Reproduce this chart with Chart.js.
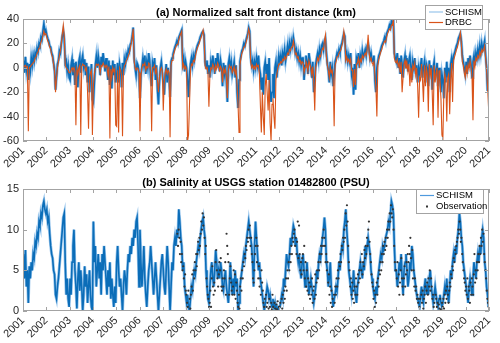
<!DOCTYPE html>
<html>
<head>
<meta charset="utf-8">
<script src="https://cdn.jsdelivr.net/npm/chart.js@4.4.0/dist/chart.umd.min.js"></script>
<style>
  html, body { margin: 0; padding: 0; background: #fff; }
  #wrap { position: relative; width: 500px; height: 343px; }
  canvas { position: absolute; left: 0; }
  #top { top: 0; }
  #bot { top: 170px; }
</style>
</head>
<body>
<div id="wrap">
  <canvas id="top" width="500" height="170"></canvas>
  <canvas id="bot" width="500" height="173"></canvas>
</div>
<script>
// x axis years
const yearTicks = [2001, 2021];
const perYear = 24; // half-month samples

// (a) normalized salt front distance, km — one row per year 2001..2020
const schismKm = [
  [6,-4,9,-2,4,-10,3,-3,8,2,10,5,12,9,16,13,20,18,25,23,30,36,29,31],
  [27,24,22,18,17,12,10,4,-2,-18,-8,3,6,14,12,20,26,30,24,4,6,-3,2,-8],
  [-10,2,7,-6,4,-14,5,-2,-16,5,9,-4,6,10,1,7,-6,4,-12,1,-20,-8,3,-26],
  [-28,-12,2,9,0,10,4,-6,9,2,12,5,-3,8,0,-10,6,-14,2,-17,6,-6,3,-12],
  [-6,4,-12,3,-2,-16,4,-6,7,3,11,9,15,13,19,21,26,33,8,0,-6,4,2,-4],
  [-25,-6,1,8,2,10,-5,5,0,12,6,-8,-15,4,0,8,-10,2,-18,-30,-12,0,5,-4],
  [-12,-22,-6,3,-12,0,-8,-24,5,8,11,14,17,19,22,20,25,27,29,31,4,8,-3,5],
  [0,-10,-24,-6,3,8,2,10,6,12,15,18,20,22,25,27,29,30,27,5,0,6,-5,2],
  [-8,5,0,10,3,-5,8,0,12,5,-3,6,0,-15,4,-5,2,-10,-28,3,8,0,5,-5],
  [0,5,-8,2,-20,-33,-10,5,10,14,16,20,18,22,25,28,33,30,8,2,6,-2,5,0],
  [8,2,10,0,-5,-18,-8,-22,0,5,-5,3,-10,8,-18,-28,-20,-5,-25,0,5,-8,2,10],
  [5,10,2,12,8,15,6,12,18,10,20,15,22,18,25,20,12,15,8,12,5,10,2,8],
  [8,-10,2,10,5,-5,12,6,0,-8,5,-20,-10,3,8,12,6,15,10,18,20,15,22,24],
  [12,3,-2,-12,5,-5,0,-15,-5,5,8,12,10,15,12,18,20,24,28,26,8,12,5,10],
  [5,12,-5,0,-22,3,-18,8,5,12,0,10,6,14,8,12,15,10,18,20,15,8,12,6],
  [5,10,-10,-20,0,5,10,12,15,18,20,22,25,22,28,30,32,35,33,38,36,39,12,8],
  [5,12,0,8,-5,10,3,-8,5,10,0,8,-3,6,10,2,-10,5,0,8,-5,2,-12,0],
  [-5,2,8,-8,0,5,-12,3,0,-15,6,-5,2,-18,0,5,-10,-3,4,-15,0,-8,-20,-5],
  [-10,-25,0,-12,5,-8,0,-20,3,8,2,10,12,15,18,20,24,26,28,22,10,5,0,-5],
  [5,-5,8,0,10,3,-8,5,10,2,12,8,15,10,18,12,20,15,18,22,10,0,-19,-12]
];

const drbcKm = [
  [2,1,2,0,1,-52,0,1,2,3,4,5,8,9,12,13,16,18,21,23,26,30,27,28],
  [25,22,20,17,15,11,8,3,-3,-20,-8,0,5,10,14,20,28,35,26,2,0,-1,-2,-4],
  [-4,-2,0,-2,0,-3,-47,-1,-5,0,2,-55,1,3,2,2,-2,0,-20,-50,-8,-4,-2,-55],
  [-15,-5,0,3,2,3,2,-4,2,1,4,2,0,2,0,-6,1,-58,-1,-8,0,-3,-1,-47],
  [-48,-2,-53,0,-2,-6,-56,-3,2,3,6,7,10,12,16,20,25,32,5,0,-2,0,-1,-4],
  [-52,-6,0,3,2,4,-2,1,0,4,3,-5,-52,0,0,2,-4,-1,-10,-20,-8,-2,0,-3],
  [-35,-12,-4,-1,-5,-2,-4,-57,2,6,9,12,15,17,19,19,23,26,28,30,0,3,-1,1],
  [-2,-60,-55,-30,-2,3,2,6,5,9,13,16,18,20,23,25,28,31,25,2,-1,1,-4,-32],
  [-6,0,-1,3,1,-3,2,-1,4,2,-2,1,-1,-12,-1,-4,-1,-8,-25,-2,2,0,1,-4],
  [-2,1,-5,-1,-14,-30,-53,2,8,12,14,17,17,20,23,27,32,28,5,0,2,-1,1,-1],
  [3,1,2,-5,-30,-53,-20,-40,-55,-15,-5,-20,-35,-10,-45,-60,-30,-25,-40,-50,-10,-5,0,3],
  [3,5,4,7,6,9,7,9,12,11,15,14,17,17,22,17,11,12,8,9,5,6,3,5],
  [4,-4,0,5,3,-3,6,3,0,-6,1,-12,-35,0,4,8,6,10,9,13,16,15,22,27],
  [9,2,-2,-8,1,-4,-2,-10,-48,2,5,9,9,12,12,15,18,22,30,24,6,9,5,7],
  [4,7,-2,-2,-16,-1,-14,3,4,8,2,7,5,10,8,10,12,10,15,27,12,6,8,4],
  [3,5,-6,-16,-40,2,7,10,13,15,18,20,22,21,25,28,30,32,31,35,35,40,8,5],
  [4,7,1,4,-4,5,-20,-8,3,6,-1,4,-3,3,-15,0,-12,2,-1,4,-6,0,-15,-41],
  [-8,-10,3,-10,-28,2,-15,0,-5,-36,3,-6,0,-20,-47,2,-12,-5,0,-41,-2,-10,-25,-55],
  [-58,-20,-5,-10,-44,-8,-5,-38,-10,4,-28,6,9,12,15,17,21,24,29,20,5,2,-4,-8],
  [2,-5,3,-1,6,1,-8,-43,6,1,8,6,10,8,13,10,15,13,15,18,8,-2,-15,-32]
];

// (b) salinity at USGS 01482800, PSU
const schismPsu = [
  [7,4,7.5,3,5,1,5.5,4,6,5,7,6.5,8.5,8,9.5,9,11,10.5,12,11.5,13,13.5,12.5,12],
  [12.5,11,11.5,9.5,8,7,6.5,5,4.5,2,1.5,3,4,5.5,7,8.5,10,11.5,12,6,2,4,1.5,0.5],
  [4,2,6,8,10,5,3,0.3,4,6,2.5,5,3,0,2,5.5,3,4.5,1,3,5,2,0.5,0],
  [11,6,8,3,5,7,4,6,2,7,5,8,6,4,2,5,3,6,1.5,4,2,0.5,3,1],
  [6,8,5,3,4,2,0,3,5,4,2,5,7,6,8,7,9,8,10,9,11,11.5,8,3],
  [10,6,3,5,8,4,2,0.5,3,5,6,8,6,4,2,4,6,4,2,0,2,4,6,7],
  [5,3,2,5,8,6,3,0,3,6,5,8,9,8,10,9,12.5,11,9,8,5,6,3,2],
  [1,2,0.5,0,1.5,3,2.5,4,5,4.5,6,7,8,7.5,9,10,11,11.5,10,9,5,3,1.5,1],
  [3,5,6,4,3,5,7.5,6,4,5,4,6,5,3,2.5,4,5,3,2,1,3,6,4,2],
  [4,2,5,3,4,0,1,3,4,5,6,7,6.5,8,9,10,11,10,9,8,6,3,8,11],
  [9,7,5,6,4,3,2,1,0,1,2,3,2.5,1.5,2,1,0.5,1.5,0.5,1,0,0.5,0,0.5],
  [0.5,1,2,1.5,4,3,5,7,6,5.5,7,9,8,9.5,10.5,10,8,9,7,6,7,5,4,6],
  [7,5,3,4,6,4,2,3,4,3,2,1,2,3,5,4,6,7,6.5,8,9,10,11.5,10],
  [6,5,3,4,6,3,2,0.5,1.5,2,3,2.5,4,6,5,7,8,7.5,10,11,12.5,10,8,5],
  [4,3,2,3,5,3,2,1,3,4,5,6,5,4,6,5,8,7,8,9,8,7,5,4],
  [3,2,1.5,3,2,4,5,6,7,6.5,8,7.5,8,9,9.5,10,11,10.5,12,13.5,13,12,8,5],
  [5,3,4,6,5,7,4,2,5,6,7,5,3,4,6,5,8,7,5,4,3,2,1.5,1],
  [0.5,2,3,1.5,1,3,4,2,3,2,4,5,3,2,1,2,3,2,1,0.5,1.5,2,1,0.5],
  [1,2,3,2,4,2,1,3,5,4,6,7,6,8,7,9,10,12,11,9,8,6,5,4],
  [3,2,1,3,4,3,2,4,6,5,4,6,7,6,8,7,9,10,9,6,5,3,2,0.5]
];

// observations, 36 per year, starting late 2007
const obsStart = 2007 + 22 / 36;
const obsPerYear = 36;
const obsPsu = [
  [9.5,8,10,9,7,8.5,6,7,5,5.5,4,3,4.5,2.5],
  [2,1,0.5,2.5,0,1.5,0.3,2,3,4.5,2.5,5,4,6,5,7,5.5,7,8.5,7.5,9,8,9.5,11,10,12,10.5,11.5,9,7,8,4,3,2,1.5,0.5],
  [1,2.5,0.5,4,5.5,3,2,3.5,2.5,6,7.5,5,4,3,4.5,6,5,6.5,3,2.5,4,3,5,4,6,2,9.5,8,7,6,2,4,5.5,3.5,2.5,2],
  [3,5,2,4.5,1.5,3.5,2.5,1,0.5,2,0.3,3,4,2.5,5,4,6,5.5,7,6.5,8,7.5,9,8.5,10,9,10.5,8,9,7,6,4,3.5,5,7,8],
  [9,6,8,4,5.5,3,4,2,5,3.5,2.5,1,0.5,1.5,0,2,0.5,1,0,0.3,1.5,0.5,0,1,0.2,2,0.5,0,1,0.3,0,0.8,0.2,1.2,0,0.5],
  [0.5,1,0,1.5,0.3,2,1,2.5,1.5,3,4,2.5,5,4,6,5,7,6,8,7,9,8.5,9.5,10,8,9,7,8.5,11,6.5,10.5,7,5,6,4.5,6.5],
  [7,5,8,4,6,3,5,2.5,4,2,3.5,1.5,3,2,4,1,2.5,3,1.5,4.5,2,3.5,5,4,6,5,7,6,8,7,9,8,10,9,8,6],
  [7,5,6,3.5,4.5,2,3,1,2.5,0.5,1.5,0,2,1,3,2,4,3,5,4,6,5.5,7,6,8,7.5,9,8.5,10,9,12,10.5,13,11,8,6],
  [5,3,4,2,3.5,1.5,2.5,1,3,2,4,3,2,4.5,3.5,5,4,6,5,7,4.5,6,5.5,7.5,6.5,8,7,9,8,10,11,8.5,7,6,4.5,3.5],
  [3,1.5,2.5,0.5,2,1,3.5,2,4,3,5,4.5,6,5,7,6,8,7,8.5,7.5,9,8,10,9,11,10,12,11,13,12,11.5,12.5,10,8,6,5],
  [5,4,6,3,4.5,2,3.5,5,6.5,4,3,2,4,5.5,3,4.5,6,5,7,6,8,7,9,6.5,5,7.5,4,5,3,4,2.5,3,1.5,2,1,1.5],
  [0.5,1.5,0,2,1,2.5,0.3,1.5,2,3,1,2.5,3.5,2,4,3,5,2.5,4,3,1.5,2,0.5,1,0,2,1.5,0.5,1,0,0.8,0.3,1.5,0.2,0,1],
  [0.5,1.5,0.3,2,1,2.5,1.5,3,2,1,2.5,3.5,3,4.5,4,5.5,5,6.5,6,7.5,7,8,8.5,9,10,9.5,11,10,8.5,9,7,6,5,4,3.5,2.5],
  [3,2,4,1.5,3,2.5,1,3.5,2,4,3,2,4.5,7,3.5,5,4,6,5,7,6,8,7,9,8,10,8.5,9.5,7,6,5,4,2.5,1.5,1,0.5]
];

function yearSeries(rows) {
  const out = [];
  rows.forEach((row, yi) => row.forEach((v, i) => {
    out.push({ x: yearTicks[0] + yi + (i + 0.5) / perYear, y: v });
  }));
  return out;
}
function obsSeries(rows) {
  const out = [];
  let k = 0;
  rows.forEach(row => row.forEach(v => {
    out.push({ x: obsStart + (k + 0.5) / obsPerYear, y: v });
    k++;
  }));
  return out;
}

Chart.defaults.font.family = "'Liberation Sans', Arial, Helvetica, sans-serif";
Chart.defaults.color = '#262626';

const lightBlue = '#98c5ec';
const darkBlue = '#0b6db8';
const orange = '#d95319';

const frame = {
  id: 'frame',
  afterDatasetsDraw(chart) {
    const { ctx, chartArea: a, scales: { x, y } } = chart;
    ctx.save();
    ctx.strokeStyle = '#a3a3a3';
    ctx.lineWidth = 1;
    ctx.strokeRect(a.left + 0.5, a.top + 0.5, a.right - a.left - 1, a.bottom - a.top - 1);
    ctx.beginPath();
    x.ticks.forEach(t => {
      const px = Math.round(x.getPixelForValue(t.value)) + 0.5;
      ctx.moveTo(px, a.bottom); ctx.lineTo(px, a.bottom - 4);
      ctx.moveTo(px, a.top); ctx.lineTo(px, a.top + 4);
    });
    y.ticks.forEach(t => {
      const py = Math.round(y.getPixelForValue(t.value)) + 0.5;
      ctx.moveTo(a.left, py); ctx.lineTo(a.left + 4, py);
      ctx.moveTo(a.right, py); ctx.lineTo(a.right - 4, py);
    });
    ctx.stroke();
    ctx.restore();
  }
};

const panelTitle = {
  id: 'panelTitle',
  afterDraw(chart, args, opts) {
    const { ctx, chartArea: a } = chart;
    ctx.save();
    ctx.font = "bold 11px 'Liberation Sans', Arial, sans-serif";
    ctx.fillStyle = '#000';
    ctx.textAlign = 'center';
    ctx.textBaseline = 'middle';
    ctx.fillText(opts.text, (a.left + a.right) / 2, 13);
    ctx.restore();
  }
};

const boxLegend = {
  id: 'boxLegend',
  afterDraw(chart, args, opts) {
    const ctx = chart.ctx;
    ctx.save();
    ctx.fillStyle = '#fff';
    ctx.fillRect(opts.x, opts.y, opts.w, opts.h);
    ctx.strokeStyle = '#a3a3a3';
    ctx.lineWidth = 1;
    ctx.strokeRect(opts.x + 0.5, opts.y + 0.5, opts.w, opts.h);
    ctx.font = "9.5px 'Liberation Sans', Arial, sans-serif";
    ctx.textBaseline = 'middle';
    opts.rows.forEach(r => {
      if (r.kind === 'line') {
        ctx.strokeStyle = r.color;
        ctx.lineWidth = 1.2;
        ctx.beginPath();
        ctx.moveTo(opts.x + 4, r.cy);
        ctx.lineTo(opts.x + 18, r.cy);
        ctx.stroke();
      } else {
        ctx.fillStyle = r.color;
        ctx.fillRect(opts.x + 10, r.cy - 1, 2, 2);
      }
      ctx.fillStyle = '#000';
      ctx.fillText(r.label, opts.x + 20, r.cy);
    });
    ctx.restore();
  }
};

function makePanel(id, xHeight, yMin, yMax, yStep, datasets, title, legend) {
  return new Chart(document.getElementById(id), {
    type: 'line',
    data: { datasets },
    options: {
      responsive: false,
      animation: false,
      devicePixelRatio: 1,
      events: [],
      layout: { padding: { top: 19, right: 11, left: 0, bottom: 0 } },
      elements: { point: { radius: 0 }, line: { tension: 0 } },
      plugins: {
        legend: { display: false },
        tooltip: { enabled: false },
        panelTitle: { text: title },
        boxLegend: legend
      },
      scales: {
        x: {
          type: 'linear', min: yearTicks[0], max: yearTicks[1],
          grid: { display: false, drawTicks: false },
          border: { display: false },
          ticks: {
            stepSize: 1, autoSkip: false, minRotation: 45, maxRotation: 45,
            padding: 3, font: { size: 11 }, color: '#262626',
            callback: v => String(v)
          },
          afterFit: s => { s.height = xHeight; s.paddingLeft = 0; s.paddingRight = 0; }
        },
        y: {
          min: yMin, max: yMax,
          grid: { display: false, drawTicks: false },
          border: { display: false },
          ticks: { stepSize: yStep, padding: 4, font: { size: 11 }, color: '#262626' },
          afterFit: s => { s.width = 23; s.paddingTop = 0; s.paddingBottom = 0; }
        }
      }
    },
    plugins: [frame, panelTitle, boxLegend]
  });
}

const schismKmPts = yearSeries(schismKm);
makePanel('top', 29, -60, 40, 20, [
  { label: 'SCHISM', data: schismKmPts, borderColor: lightBlue, borderWidth: 3, order: 2 },
  { label: 'SCHISM', data: schismKmPts, borderColor: darkBlue, borderWidth: 1.6, order: 1 },
  { label: 'DRBC', data: yearSeries(drbcKm), borderColor: orange, borderWidth: 1.1, order: 0 }
], '(a) Normalized salt front distance (km)', {
  x: 425, y: 5, w: 57, h: 24,
  rows: [
    { label: 'SCHISM', kind: 'line', color: lightBlue, cy: 12 },
    { label: 'DRBC', kind: 'line', color: orange, cy: 22.5 }
  ]
});

const schismPsuPts = yearSeries(schismPsu);
makePanel('bot', 32, 0, 15, 5, [
  { label: 'SCHISM', data: schismPsuPts, borderColor: lightBlue, borderWidth: 3, order: 2 },
  { label: 'SCHISM', data: schismPsuPts, borderColor: darkBlue, borderWidth: 1.6, order: 1 },
  { label: 'Observation', data: obsSeries(obsPsu), showLine: false, pointRadius: 1.1,
    pointBackgroundColor: '#333333', pointBorderWidth: 0, order: 0 }
], '(b) Salinity at USGS station 01482800 (PSU)', {
  x: 416, y: 19, w: 67, h: 24,
  rows: [
    { label: 'SCHISM', kind: 'line', color: '#4f9ade', cy: 25.5 },
    { label: 'Observation', kind: 'dot', color: '#333333', cy: 36.5 }
  ]
});
</script>
</body>
</html>
